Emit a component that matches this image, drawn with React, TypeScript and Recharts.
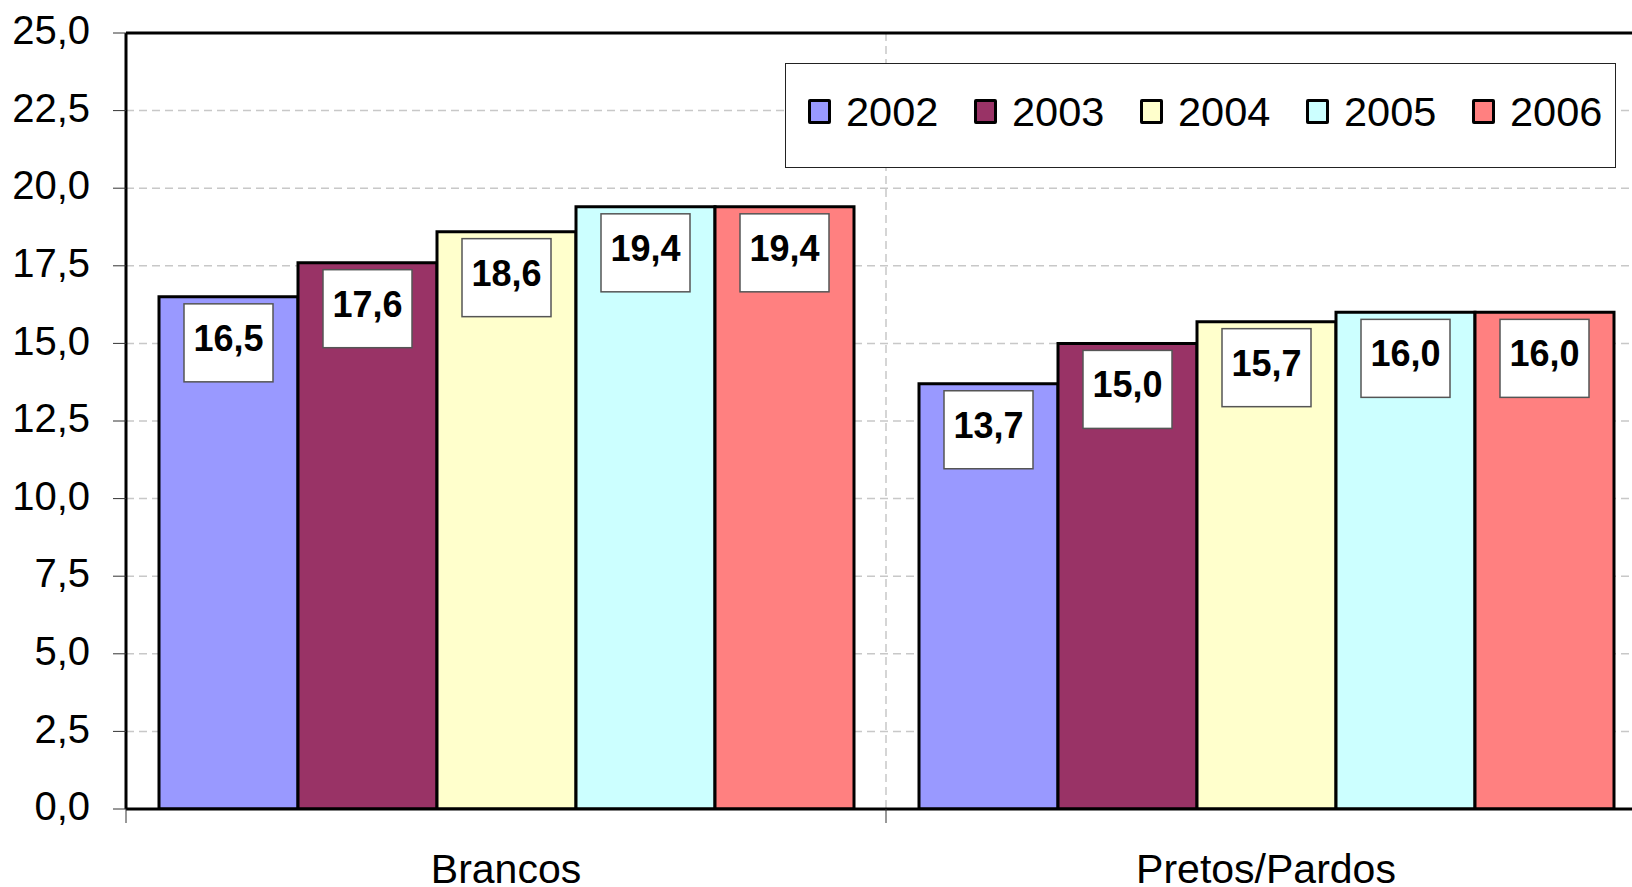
import React from "react";
import {
  BarChart,
  Bar,
  XAxis,
  YAxis,
  CartesianGrid,
  Legend,
  LabelList,
  ReferenceLine,
} from "recharts";

const groups = ["Brancos", "Pretos/Pardos"];
const years = ["2002", "2003", "2004", "2005", "2006"];
const values2002 = [16.5, 13.7];
const values2003 = [17.6, 15.0];
const values2004 = [18.6, 15.7];
const values2005 = [19.4, 16.0];
const values2006 = [19.4, 16.0];
const yTicks = [0, 2.5, 5, 7.5, 10, 12.5, 15, 17.5, 20, 22.5, 25];
const colors = ["#9999FF", "#993366", "#FFFFCC", "#CCFFFF", "#FF8080"];

const seriesValues = [values2002, values2003, values2004, values2005, values2006];
const data = groups.map((g, i) => {
  const row: Record<string, any> = { group: g };
  years.forEach((y, k) => {
    row[y] = seriesValues[k][i];
  });
  return row;
});

const FONT = '"Liberation Sans", Arial, sans-serif';
const fmt = (v: number) => v.toFixed(1).replace(".", ",");

const DataLabel = (props: any) => {
  const { x, y, width, value } = props;
  const cx = x + width / 2;
  const bw = 89;
  const bh = 78;
  const top = y + 7;
  return (
    <g>
      <rect x={cx - bw / 2} y={top} width={bw} height={bh} fill="#ffffff" stroke="#555555" strokeWidth={1.5} />
      <text x={cx} y={top + 47} textAnchor="middle" fontFamily={FONT} fontWeight="bold" fontSize={36} fill="#000">
        {fmt(value)}
      </text>
    </g>
  );
};

const XTick = (props: any) => {
  const { x, y, payload } = props;
  const half = payload && typeof payload.offset === "number" ? payload.offset : 380;
  return (
    <g>
      <line x1={x - half} y1={y} x2={x - half} y2={y + 14} stroke="#333" strokeWidth={1} />
      <text x={x} y={y + 74} textAnchor="middle" fontFamily={FONT} fontSize={41} fill="#000">
        {payload.value}
      </text>
    </g>
  );
};

const YTick = (props: any) => {
  const { x, y, payload } = props;
  return (
    <text x={x} y={y - 3} dy="0.355em" textAnchor="end" fontFamily={FONT} fontSize={40} fill="#000">
      {fmt(payload.value)}
    </text>
  );
};

const LegendContent = () => (
  <div
    style={{
      width: 831,
      height: 105,
      boxSizing: "border-box",
      border: "1.5px solid #222",
      background: "#fff",
      display: "flex",
      alignItems: "center",
      paddingLeft: 22,
      paddingBottom: 8,
      fontFamily: FONT,
      fontSize: 41.5,
      color: "#000",
    }}
  >
    {years.map((y, i) => (
      <div key={y} style={{ display: "flex", alignItems: "center", marginRight: i < years.length - 1 ? 35 : 0 }}>
        <div
          style={{
            width: 23,
            height: 25,
            boxSizing: "border-box",
            border: "3px solid #000",
            borderRadius: 2,
            background: colors[i],
            marginRight: 15,
          }}
        />
        <span style={{ lineHeight: "42px", display: "inline-block", width: 93 }}>{y}</span>
      </div>
    ))}
  </div>
);

export default function App() {
  return (
    <div style={{ position: "absolute", left: 0, top: 0, width: 1632, height: 887, overflow: "hidden", background: "#fff" }}>
      <BarChart
        width={1660}
        height={887}
        data={data}
        margin={{ top: 33, right: 14, bottom: 0, left: 0 }}
        barCategoryGap={33}
        barGap={0}
      >
        <CartesianGrid
          stroke="#c8c8c8"
          strokeDasharray="8 5"
          strokeWidth={1.5}
          verticalCoordinatesGenerator={(p: any) => [p.offset.left + p.offset.width / 2]}
        />
        <XAxis
          dataKey="group"
          height={78}
          axisLine={{ stroke: "#000", strokeWidth: 3 }}
          tickLine={false}
          tickSize={0}
          tickMargin={0}
          tick={<XTick />}
          interval={0}
        />
        <YAxis
          width={126}
          domain={[0, 25]}
          ticks={yTicks}
          interval={0}
          allowDataOverflow
          axisLine={{ stroke: "#000", strokeWidth: 3 }}
          tickLine={{ stroke: "#333", strokeWidth: 1 }}
          tickSize={13}
          tickMargin={23}
          tick={<YTick />}
        />
        <ReferenceLine y={25} stroke="#000" strokeWidth={3} />
        <Legend
          layout="vertical"
          align="center"
          verticalAlign="middle"
          wrapperStyle={{ position: "absolute", left: 785, top: 63, width: 831, height: 105 }}
          content={<LegendContent />}
        />
        {years.map((y, i) => (
          <Bar key={y} dataKey={y} fill={colors[i]} stroke="#000" strokeWidth={3} isAnimationActive={false}>
            <LabelList dataKey={y} content={<DataLabel />} />
          </Bar>
        ))}
      </BarChart>
    </div>
  );
}
